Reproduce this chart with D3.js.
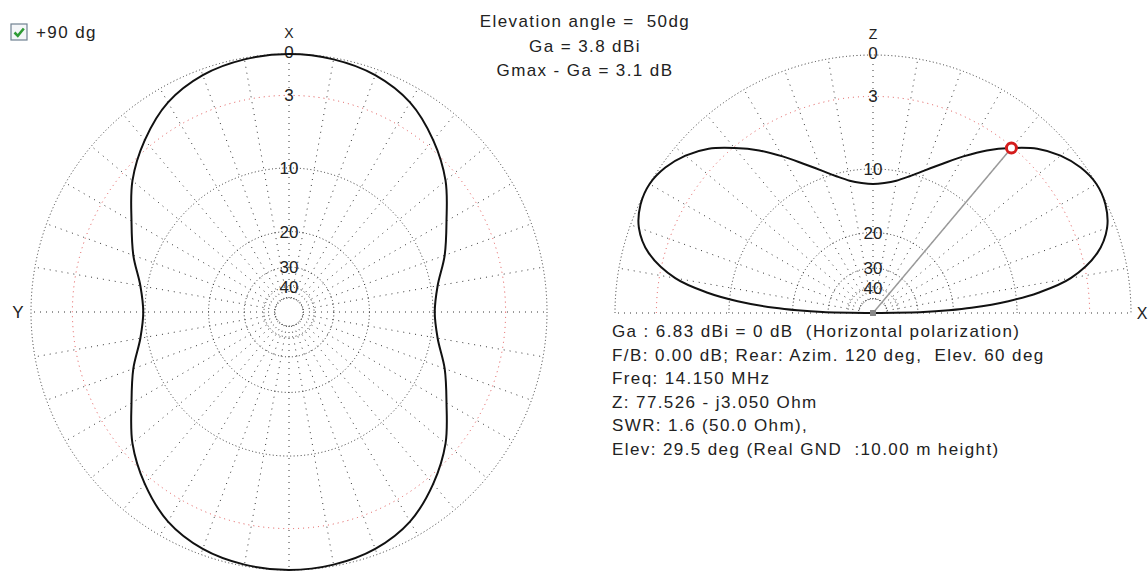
<!DOCTYPE html>
<html>
<head>
<meta charset="utf-8">
<script src="https://cdn.jsdelivr.net/npm/d3@7"></script>
<style>
  body { margin: 0; background: #fff; }
  text { font-family: "Liberation Sans", Arial, sans-serif; fill: #222; white-space: pre; }
  .txt { font-size: 17px; letter-spacing: 1.4px; }
</style>
</head>
<body>
<svg id="chart" width="1148" height="572"></svg>
<script>
// Ring levels (dB) and their labels
const ringLevels = [0, -3, -10, -20, -30, -40, -50];
const ringLabels = ["0", "3", "10", "20", "30", "40"];

// Azimuth pattern at 50 deg elevation (deg from X, dB)
const azAngles = [0, 10, 20, 30, 40, 50, 60, 70, 80, 90, 100, 110, 120, 130, 140, 150, 160, 170,
                  180, 190, 200, 210, 220, 230, 240, 250, 260, 270, 280, 290, 300, 310, 320, 330, 340, 350];
const azGain = [0, -0.1, -0.4, -1.1, -2.4, -4.0, -6.0, -7.6, -9.2, -9.8, -9.2, -7.6, -6.0, -4.0, -2.4, -1.1, -0.4, -0.1,
                0, -0.1, -0.4, -1.1, -2.4, -4.0, -6.0, -7.6, -9.2, -9.8, -9.2, -7.6, -6.0, -4.0, -2.4, -1.1, -0.4, -0.1];

// Elevation pattern (deg from +X horizon, dB)
const elAngles = [0, 1, 2, 3, 5, 7, 10, 15, 20, 25, 30, 35, 40, 45, 50, 55, 60, 65, 70, 75, 80, 85, 90,
                  95, 100, 105, 110, 115, 120, 125, 130, 135, 140, 145, 150, 155, 160, 165, 170, 173, 175, 177, 178, 179, 180];
const elGain = [-60, -28, -21, -16.5, -11, -7.5, -4.3, -1.8, -0.6, -0.1, 0, -0.3, -0.9, -1.8, -3.1, -4.5, -6.1, -7.7, -9.1, -10.3, -11.2, -11.7, -11.9,
                -11.7, -11.2, -10.3, -9.1, -7.7, -6.1, -4.5, -3.1, -1.8, -0.9, -0.3, 0, -0.1, -0.6, -1.8, -4.3, -7.5, -11, -16.5, -21, -28, -60];

const markerEl = 50, markerGain = -3.1;

const headerLines = ["Elevation angle =  50dg", "Ga = 3.8 dBi", "Gmax - Ga = 3.1 dB"];
const infoLines = [
  "Ga : 6.83 dBi = 0 dB  (Horizontal polarization)",
  "F/B: 0.00 dB; Rear: Azim. 120 deg,  Elev. 60 deg",
  "Freq: 14.150 MHz",
  "Z: 77.526 - j3.050 Ohm",
  "SWR: 1.6 (50.0 Ohm),",
  "Elev: 29.5 deg (Real GND  :10.00 m height)"
];

const R = 258;
const left = { x: 289, y: 312 };
const right = { x: 873, y: 313 };

// ARRL style log scale: 0.89 per 2 dB -> power law on the linear power ratio
const rPow = d3.scalePow().exponent(0.2531).domain([0, 1]).range([0, R]);
const r = db => rPow(Math.pow(10, db / 10));

const azScale = d3.scaleLinear().domain([0, 360]).range([0, 2 * Math.PI]);
const elScale = d3.scaleLinear().domain([0, 180]).range([Math.PI / 2, -Math.PI / 2]);

const svg = d3.select("#chart");

const gridColor = "#333";
const redColor = "#e05050";

function drawGrid(g, half) {
  // rings
  ringLevels.forEach(db => {
    const p = d3.path();
    if (half) {
      p.moveTo(-r(db), 0);
      p.arc(0, 0, r(db), Math.PI, 2 * Math.PI);
    } else {
      p.moveTo(r(db), 0);
      p.arc(0, 0, r(db), 0, 2 * Math.PI);
    }
    g.append("path")
      .attr("d", p.toString())
      .attr("fill", "none")
      .attr("stroke", db === -3 ? redColor : gridColor)
      .attr("stroke-width", 1)
      .attr("stroke-dasharray", db === -3 ? "1,4" : "1,2.5");
  });

  // spokes every 10 deg
  const spokes = half ? d3.range(0, 181, 10) : d3.range(0, 360, 10);
  spokes.forEach(a => {
    const ang = half ? elScale(a) : azScale(a);
    const r0 = r(-50);
    g.append("line")
      .attr("x1", r0 * Math.sin(ang)).attr("y1", -r0 * Math.cos(ang))
      .attr("x2", R * Math.sin(ang)).attr("y2", -R * Math.cos(ang))
      .attr("stroke", gridColor)
      .attr("stroke-width", 1)
      .attr("stroke-dasharray", "1,5");
  });

  // level labels on the vertical axis
  ringLabels.forEach((t, i) => {
    g.append("text")
      .attr("x", 0)
      .attr("y", -r(ringLevels[i]) + (i === 0 ? -2 : 0))
      .attr("dy", "0.35em")
      .attr("text-anchor", "middle")
      .attr("font-size", 17)
      .text(t);
  });
}

// ---- left plot: azimuth
const gL = svg.append("g").attr("transform", `translate(${left.x},${left.y})`);
drawGrid(gL, false);

const azLine = d3.lineRadial()
  .angle(d => azScale(d[0]))
  .radius(d => r(d[1]))
  .curve(d3.curveCatmullRomClosed);

gL.append("path")
  .attr("d", azLine(d3.zip(azAngles, azGain)))
  .attr("fill", "none")
  .attr("stroke", "#111")
  .attr("stroke-width", 2);

gL.append("text").attr("x", 0).attr("y", -R - 16).attr("text-anchor", "middle")
  .attr("font-size", 14).text("X");
gL.append("text").attr("x", -R - 13).attr("y", 0).attr("dy", "0.35em").attr("text-anchor", "middle")
  .attr("font-size", 17).text("Y");

// ---- right plot: elevation
const gR = svg.append("g").attr("transform", `translate(${right.x},${right.y})`);
drawGrid(gR, true);

const elLine = d3.lineRadial()
  .angle(d => elScale(d[0]))
  .radius(d => r(d[1]))
  .curve(d3.curveCatmullRom);

gR.append("path")
  .attr("d", elLine(d3.zip(elAngles, elGain)) + "Z")
  .attr("fill", "none")
  .attr("stroke", "#111")
  .attr("stroke-width", 2);

const ma = elScale(markerEl), mr = r(markerGain);
gR.append("line")
  .attr("x1", 0).attr("y1", 0)
  .attr("x2", mr * Math.sin(ma)).attr("y2", -mr * Math.cos(ma))
  .attr("stroke", "#9a9a9a").attr("stroke-width", 1.5);
gR.append("circle")
  .attr("cx", mr * Math.sin(ma)).attr("cy", -mr * Math.cos(ma))
  .attr("r", 5).attr("fill", "#fff").attr("stroke", "#d41c1c").attr("stroke-width", 3);
gR.append("rect").attr("x", -3).attr("y", -3).attr("width", 6).attr("height", 6).attr("fill", "#888");

gR.append("text").attr("x", 0).attr("y", -R - 16).attr("text-anchor", "middle")
  .attr("font-size", 14).text("Z");
gR.append("text").attr("x", R + 11).attr("y", 0).attr("dy", "0.35em").attr("text-anchor", "middle")
  .attr("font-size", 16).text("X");

// ---- checkbox
const cb = svg.append("g").attr("transform", "translate(11,24)");
cb.append("rect").attr("width", 16).attr("height", 16).attr("fill", "#f4f6f8")
  .attr("stroke", "#6f8191").attr("stroke-width", 1.2);
cb.append("path").attr("d", "M3.5,8.5 L6.8,11.8 L12.8,4.5")
  .attr("fill", "none").attr("stroke", "#2f9b35").attr("stroke-width", 2.6);
svg.append("text").attr("class", "txt").attr("x", 36).attr("y", 38).text("+90 dg");

// ---- header text
svg.selectAll(".hdr").data(headerLines).enter().append("text")
  .attr("class", "hdr txt")
  .attr("x", 585)
  .attr("y", (d, i) => 27 + i * 24.5)
  .attr("text-anchor", "middle")
  .text(d => d);

// ---- info text
svg.selectAll(".info").data(infoLines).enter().append("text")
  .attr("class", "info txt")
  .attr("x", 612)
  .attr("y", (d, i) => 337 + i * 23.5)
  .text(d => d);
</script>
</body>
</html>
